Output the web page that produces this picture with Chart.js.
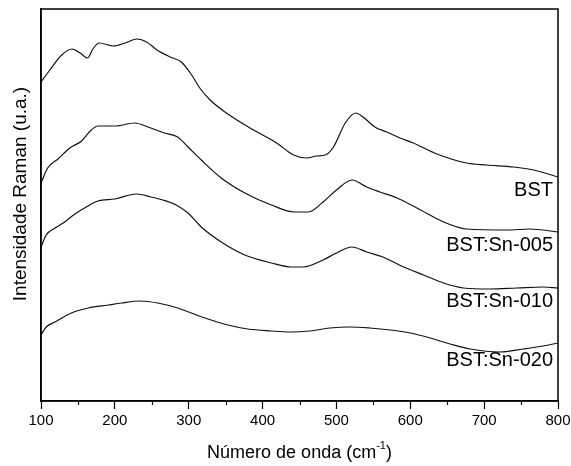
<!DOCTYPE html>
<html>
<head>
<meta charset="utf-8">
<script src="https://cdn.jsdelivr.net/npm/chart.js@4/dist/chart.umd.min.js"></script>
<style>
  body { margin: 0; background: #fff; }
  #wrap { width: 571px; height: 466px; }
</style>
</head>
<body>
<div id="wrap"><canvas id="raman"></canvas></div>
<script>
// Raman spectra, offset vertically (arbitrary units)
const bstX = [100,112,128,142,153,163,171,179,198,214,230,243,257,275,290,304,315,329,351,383,419,442,460,473,485,496,512,526,536,552,568,586,604,636,676,703,740,767,800];
const bstY = [319,331,346,352,348,343,353,358,355,358,362,359,351,344,339,326,313,301,288,273,258,246,243,245,246,254,278,288,284,274,269,263,258,247,238,236,234,231,224];

const sn005X = [100,109,123,139,155,168,177,200,227,245,267,285,299,317,344,376,412,443,462,482,500,521,541,559,582,609,645,676,731,762,800];
const sn005Y = [218,233,242,253,260,271,275,275,278,274,268,264,254,241,223,208,196,189,189,199,211,221,214,209,203,193,179,172,171,172,169];

const sn010X = [100,107,119,130,146,159,177,200,229,249,265,283,299,317,344,376,412,439,455,482,500,521,541,563,591,618,645,672,708,744,780,800];
const sn010Y = [154,166,173,178,187,193,200,202,207,204,201,196,188,174,159,146,138,134,134,141,148,154,149,144,134,126,118,113,112,113,114,113];

const sn020X = [100,107,119,141,164,191,209,234,258,285,322,353,380,412,437,464,491,518,545,573,600,627,654,681,721,753,780,800];
const sn020Y = [66,74,79,88,93,96,98,100,98,93,83,76,72,70,69,70,73,74,73,71,68,63,57,52,49,52,55,58];

const seriesNames = ['BST', 'BST:Sn-005', 'BST:Sn-010', 'BST:Sn-020'];
const labelY = [211, 156, 100, 41];
const xTickLabels = [100, 200, 300, 400, 500, 600, 700, 800];

function toPoints(xs, ys) {
  return xs.map((x, i) => ({ x: x, y: ys[i] }));
}

const allX = [bstX, sn005X, sn010X, sn020X];
const allY = [bstY, sn005Y, sn010Y, sn020Y];

const datasets = seriesNames.map((name, i) => ({
  label: name,
  data: toPoints(allX[i], allY[i]),
  borderColor: '#111',
  borderWidth: 1.2,
  pointRadius: 0,
  fill: false,
  cubicInterpolationMode: 'monotone'
}));

const framePlugin = {
  id: 'frame',
  afterDraw(chart) {
    const ctx = chart.ctx;
    const a = chart.chartArea;
    const xs = chart.scales.x;
    const ys = chart.scales.y;
    ctx.save();
    ctx.strokeStyle = '#000';
    ctx.lineWidth = 1.5;
    ctx.strokeRect(a.left, a.top, a.right - a.left, a.bottom - a.top);

    // minor ticks
    ctx.lineWidth = 1.2;
    for (let v = 150; v < 800; v += 100) {
      const px = Math.round(xs.getPixelForValue(v)) + 0.5;
      ctx.beginPath();
      ctx.moveTo(px, a.bottom);
      ctx.lineTo(px, a.bottom + 4);
      ctx.stroke();
    }

    // series labels
    ctx.fillStyle = '#000';
    ctx.font = '20px "Liberation Sans", Arial, sans-serif';
    ctx.textAlign = 'right';
    ctx.textBaseline = 'middle';
    seriesNames.forEach((name, i) => {
      ctx.fillText(name, a.right - 5, ys.getPixelForValue(labelY[i]));
    });

    // y title
    ctx.font = '19px "Liberation Sans", Arial, sans-serif';
    ctx.textAlign = 'center';
    ctx.translate(21, 194);
    ctx.rotate(-Math.PI / 2);
    ctx.fillText('Intensidade Raman (u.a.)', 0, 0);
    ctx.setTransform(1, 0, 0, 1, 0, 0);

    // x title with superscript
    const main = 'Número de onda (cm';
    const sup = '-1';
    const tail = ')';
    ctx.font = '18px "Liberation Sans", Arial, sans-serif';
    const wMain = ctx.measureText(main).width;
    const wTail = ctx.measureText(tail).width;
    ctx.font = '11px "Liberation Sans", Arial, sans-serif';
    const wSup = ctx.measureText(sup).width;
    let x0 = (a.left + a.right) / 2 - (wMain + wSup + wTail) / 2;
    const yT = 453;
    ctx.textAlign = 'left';
    ctx.font = '18px "Liberation Sans", Arial, sans-serif';
    ctx.fillText(main, x0, yT);
    ctx.font = '11px "Liberation Sans", Arial, sans-serif';
    ctx.fillText(sup, x0 + wMain, yT - 7);
    ctx.font = '18px "Liberation Sans", Arial, sans-serif';
    ctx.fillText(tail, x0 + wMain + wSup, yT);
    ctx.restore();
  }
};

new Chart(document.getElementById('raman').getContext('2d'), {
  type: 'line',
  data: { datasets: datasets },
  options: {
    responsive: true,
    maintainAspectRatio: false,
    animation: false,
    layout: { padding: { left: 0, right: 13, top: 9, bottom: 0 } },
    plugins: {
      legend: { display: false },
      tooltip: { enabled: false }
    },
    scales: {
      x: {
        type: 'linear',
        min: 100,
        max: 800,
        afterFit(scale) {
          scale.height = 65;
          scale.paddingLeft = 0;
          scale.paddingRight = 0;
        },
        afterBuildTicks(scale) {
          scale.ticks = xTickLabels.map(v => ({ value: v }));
        },
        ticks: {
          autoSkip: false,
          maxRotation: 0,
          padding: 3,
          color: '#000',
          font: { family: '"Liberation Sans", Arial, sans-serif', size: 15 }
        },
        grid: {
          drawOnChartArea: false,
          drawTicks: true,
          tickLength: 8,
          tickWidth: 1.2,
          tickColor: '#000'
        },
        border: { display: true, color: '#000', width: 1.5 }
      },
      y: {
        type: 'linear',
        min: 0,
        max: 392,
        afterFit(scale) { scale.width = 41; },
        ticks: { display: false },
        grid: { display: false },
        border: { display: true, color: '#000', width: 1.5 }
      }
    }
  },
  plugins: [framePlugin]
});
</script>
</body>
</html>
